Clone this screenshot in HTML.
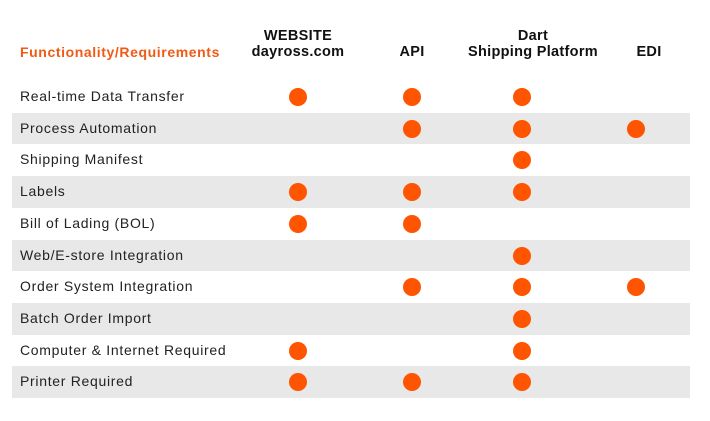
<!DOCTYPE html>
<html><head><style>
body{margin:0;width:710px;height:421px;background:#fff;font-family:"Liberation Sans",sans-serif;position:relative;overflow:hidden}
.h{position:absolute;font-weight:bold;font-size:14.5px;color:#111;text-align:center;line-height:16px;transform:translateX(-50%);white-space:nowrap;letter-spacing:0.3px}
.row{position:absolute;left:12px;width:678px;height:31.7px}
.g{background:#e8e8e8}
.l{position:absolute;left:8px;top:0;line-height:31.7px;font-size:14px;color:#222;letter-spacing:0.7px}
.d{position:absolute;width:18px;height:18px;border-radius:50%;background:#ff5400;top:7px}
</style></head><body>
<div style="position:absolute;left:20px;top:44px;font-weight:bold;font-size:14px;color:#f05a14;line-height:16px;letter-spacing:0.6px">Functionality/Requirements</div>
<div class="h" style="left:298px;top:28px">WEBSITE<br>dayross.com</div>
<div class="h" style="left:412px;top:44px">API</div>
<div class="h" style="left:533px;top:28px">Dart<br>Shipping Platform</div>
<div class="h" style="left:649px;top:44px">EDI</div>
<div id="t"></div>
<script>
var rows=[["Real-time Data Transfer",[1,1,1,0]],["Process Automation",[0,1,1,1]],["Shipping Manifest",[0,0,1,0]],["Labels",[1,1,1,0]],["Bill of Lading (BOL)",[1,1,0,0]],["Web/E-store Integration",[0,0,1,0]],["Order System Integration",[0,1,1,1]],["Batch Order Import",[0,0,1,0]],["Computer & Internet Required",[1,0,1,0]],["Printer Required",[1,1,1,0]]];
var cx=[298,412,522,636],h="";
rows.forEach(function(r,i){h+='<div class="row'+(i%2?' g':'')+'" style="top:'+(81+i*31.7)+'px"><div class="l">'+r[0].replace('&','&amp;')+'</div>';
r[1].forEach(function(v,j){if(v)h+='<div class="d" style="left:'+(cx[j]-12-9)+'px"></div>';});h+='</div>';});
document.getElementById('t').innerHTML=h;
</script>
</body></html>
